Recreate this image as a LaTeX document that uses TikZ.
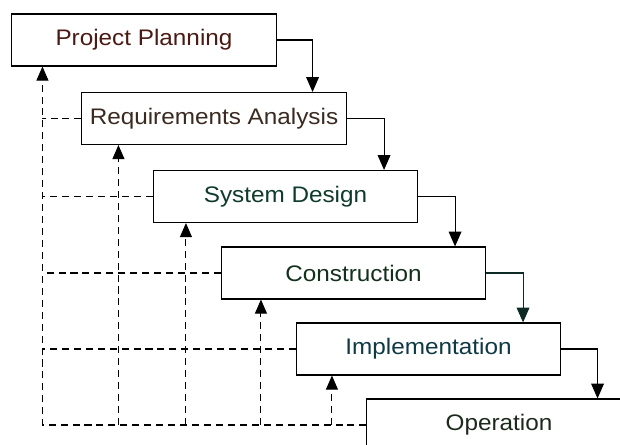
\documentclass[tikz,border=0pt]{standalone}
\usepackage{fontspec}
\newfontfamily\stagefont[FakeStretch=1.08]{Liberation Sans}
\usetikzlibrary{arrows.meta}
\definecolor{planred}{HTML}{4A1A14}
\definecolor{reqbrown}{HTML}{3A2A20}
\definecolor{sysgreen}{HTML}{0F3A2E}
\definecolor{congreen}{HTML}{12301C}
\definecolor{impteal}{HTML}{0F3A44}
\definecolor{opsgreen}{HTML}{1C2A1C}
\definecolor{darrow}{HTML}{0D2A24}

\begin{document}
\begin{tikzpicture}[x=0.025cm, y=-0.025cm,
		stage/.style={draw=black, fill=white, line width=0.75pt, minimum width=6.6cm, minimum height=1.3cm, inner sep=0pt, font=\stagefont\fontsize{16}{19}\selectfont},
		flow/.style={draw=black, line width=0.75pt, -{Triangle[length=10.5pt,width=9pt]}},
		dashline/.style={draw=black, line width=0.75pt, dash pattern=on 5pt off 3.5pt},
		back/.style={dashline, -{Triangle[length=10pt,width=8.5pt]}}]
		\useasboundingbox (0,0) rectangle (620,445);
		% stages of the waterfall
		\node[stage, text=planred] (plan) at (144,40) {Project Planning};
		\node[stage, text=reqbrown] (req) at (214,118.5) {Requirements Analysis};
		\node[stage, text=sysgreen] (sys) at (285.5,196.5) {System Design};
		\node[stage, text=congreen] (con) at (353.5,273) {Construction};
		\node[stage, text=impteal] (imp) at (428.5,349) {Implementation};
		\node[stage, text=opsgreen] (ops) at (499,425) {Operation};
		% forward flow
		\draw[flow] (plan.east) -| ([xshift=-0.85cm]req.north east);
		\draw[flow] (req.east) -| ([xshift=-0.85cm]sys.north east);
		\draw[flow] (sys.east) -| ([xshift=-0.775cm]con.north east);
		\draw[flow, draw=darrow] (con.east) -| ([xshift=-0.95cm]imp.north east);
		\draw[flow] (imp.east) -| ([xshift=-0.85cm]ops.north east);
		% feedback lines
		\coordinate (pl) at ([xshift=0.775cm]plan.south west);
		\coordinate (rq) at ([xshift=0.925cm]req.south west);
		\coordinate (sd) at ([xshift=0.825cm]sys.south west);
		\coordinate (cs) at ([xshift=1cm]con.south west);
		\coordinate (im) at ([xshift=0.9cm]imp.south west);
		\draw[back] (ops.west) -| (pl);
		\foreach \b/\c in {req/rq, sys/sd, con/cs, imp/im} {
			\draw[dashline] (\b.west) -- (\b.west -| pl);
			\draw[back] (\c |- ops.west) -- (\c);
		}
\end{tikzpicture}
\end{document}
